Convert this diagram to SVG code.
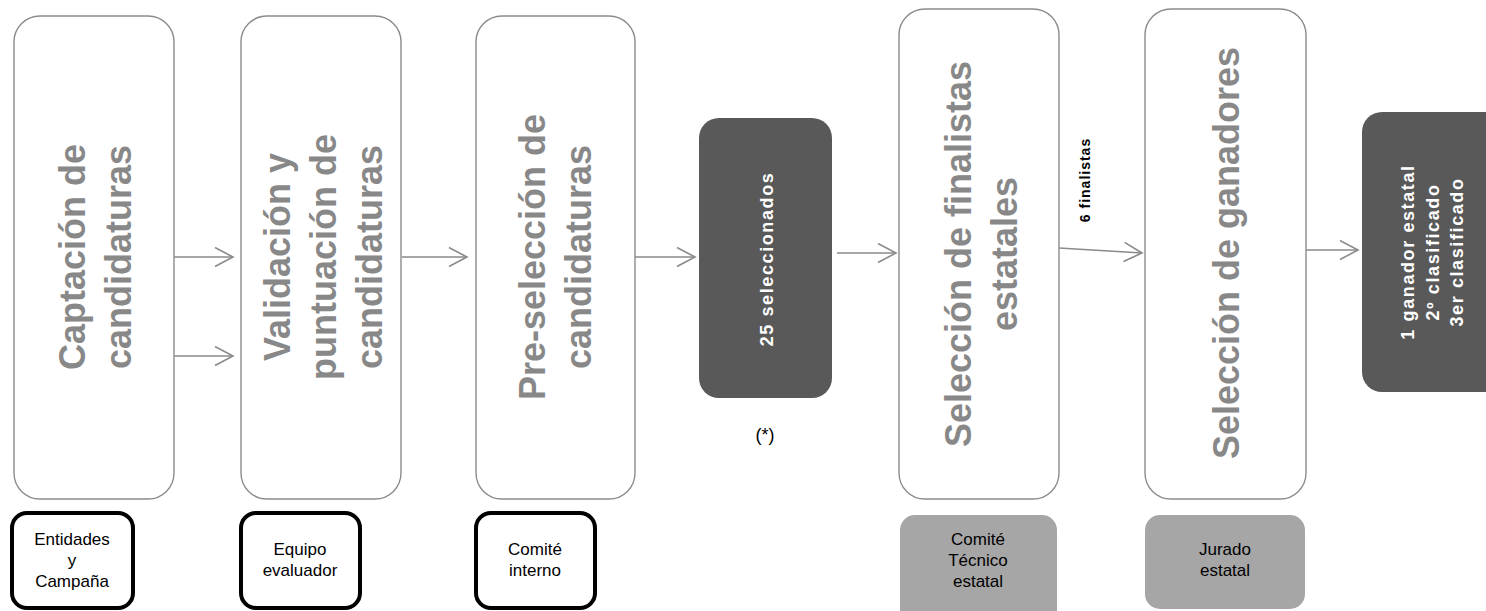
<svg xmlns="http://www.w3.org/2000/svg" width="1486" height="611" viewBox="0 0 1486 611">
<defs>
<marker id="arr" markerUnits="userSpaceOnUse" markerWidth="22" markerHeight="22" viewBox="0 0 22 22" refX="19" refY="10" orient="auto">
<path d="M1,0.5 L19,10 L1,19.5" fill="none" stroke="#8a8a8a" stroke-width="1.6"/>
</marker>
<style>
.big{fill:#fff;stroke:#8c8c8c;stroke-width:1.4}
.bt{font-family:"Liberation Sans",Arial,sans-serif;font-weight:bold;font-size:36px;fill:#888;text-anchor:middle}
.dark{fill:#595959}
.wt{font-family:"Liberation Sans",Arial,sans-serif;font-weight:bold;font-size:18px;fill:#fff;text-anchor:middle;letter-spacing:1.6px}
.blk{fill:#fff;stroke:#000;stroke-width:4}
.gry{fill:#a6a6a6}
.st{font-family:"Liberation Sans",Arial,sans-serif;font-size:17px;fill:#000;text-anchor:middle}
.con{stroke:#8a8a8a;stroke-width:1.6;fill:none;marker-end:url(#arr)}
</style>
</defs>
<rect width="1486" height="611" fill="#fff"/>
<g id="n1">
<rect class="big" x="14" y="16" width="160" height="483" rx="26"/>
<text class="bt" transform="translate(85,257) rotate(-90)">Captación de</text>
<text class="bt" transform="translate(131,257) rotate(-90)">candidaturas</text>
</g>
<g id="n2">
<rect class="big" x="241" y="16" width="160" height="483" rx="26"/>
<text class="bt" transform="translate(290,257) rotate(-90)">Validación y</text>
<text class="bt" transform="translate(336,257) rotate(-90)">puntuación de</text>
<text class="bt" transform="translate(382,257) rotate(-90)">candidaturas</text>
</g>
<g id="n3">
<rect class="big" x="476" y="16" width="159" height="483" rx="26"/>
<text class="bt" transform="translate(545,257) rotate(-90)">Pre-selección de</text>
<text class="bt" transform="translate(591,257) rotate(-90)">candidaturas</text>
</g>
<g id="n4">
<rect class="dark" x="699" y="118" width="133" height="280" rx="20"/>
<text class="wt" transform="translate(773,259) rotate(-90)">25 seleccionados</text>
</g>
<g id="note">
<text class="st" x="765" y="441" style="font-size:18px">(*)</text>
</g>
<g id="n5">
<rect class="big" x="899" y="9" width="160" height="490" rx="26"/>
<text class="bt" transform="translate(971,254) rotate(-90)">Selección de finalistas</text>
<text class="bt" transform="translate(1017,254) rotate(-90)">estatales</text>
</g>
<g id="n6">
<rect class="big" x="1145" y="9" width="161" height="490" rx="26"/>
<text class="bt" transform="translate(1239,253) rotate(-90)">Selección de ganadores</text>
</g>
<g id="n7">
<rect class="dark" x="1362" y="112" width="150" height="280" rx="20"/>
<text class="wt" transform="translate(1414,252) rotate(-90)">1 ganador estatal</text>
<text class="wt" transform="translate(1439,252) rotate(-90)">2º clasificado</text>
<text class="wt" transform="translate(1463,252) rotate(-90)">3er clasificado</text>
</g>
<g id="b1">
<rect class="blk" x="12" y="513" width="121" height="95" rx="15"/>
<text class="st" x="72" y="545">Entidades</text>
<text class="st" x="72" y="566">y</text>
<text class="st" x="72" y="587">Campaña</text>
</g>
<g id="b2">
<rect class="blk" x="241" y="513" width="119" height="95" rx="15"/>
<text class="st" x="300" y="555">Equipo</text>
<text class="st" x="300" y="576">evaluador</text>
</g>
<g id="b3">
<rect class="blk" x="476" y="513" width="119" height="95" rx="15"/>
<text class="st" x="535" y="555">Comité</text>
<text class="st" x="535" y="576">interno</text>
</g>
<g id="b4">
<rect class="gry" x="900" y="515" width="157" height="110" rx="15"/>
<text class="st" x="978" y="545">Comité</text>
<text class="st" x="978" y="566">Técnico</text>
<text class="st" x="978" y="587">estatal</text>
</g>
<g id="b5">
<rect class="gry" x="1145" y="515" width="160" height="94" rx="15"/>
<text class="st" x="1225" y="555">Jurado</text>
<text class="st" x="1225" y="576">estatal</text>
</g>
<g id="connectors">
<line class="con" x1="174" y1="257" x2="233" y2="257"/>
<line class="con" x1="174" y1="356" x2="233" y2="356"/>
<line class="con" x1="402" y1="257" x2="467" y2="257"/>
<line class="con" x1="635" y1="257" x2="695" y2="257"/>
<line class="con" x1="837" y1="253" x2="896" y2="253"/>
<line class="con" x1="1059" y1="248" x2="1142" y2="253"/>
<line class="con" x1="1306" y1="250" x2="1358" y2="250"/>
<text transform="translate(1090,180) rotate(-90)" font-family="'Liberation Sans',Arial,sans-serif" font-weight="bold" font-size="14" letter-spacing="1" text-anchor="middle" fill="#000">6 finalistas</text>
</g>
</svg>
